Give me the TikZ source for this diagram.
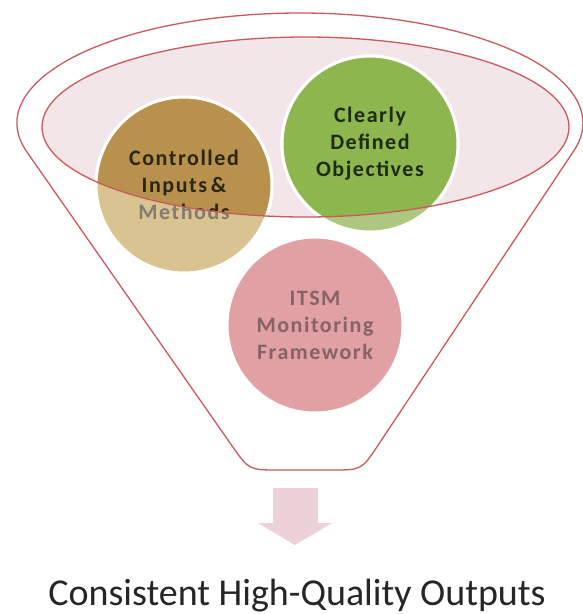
\documentclass[tikz,border=0pt]{standalone}
\usepackage{fontspec}
\setmainfont{Carlito}
\newfontfamily\circfont[LetterSpace=7]{Carlito}
\definecolor{funnelred}{HTML}{C85A5E}
\definecolor{mouthpink}{HTML}{F3E6E8}
\definecolor{brownD}{HTML}{B8914C}
\definecolor{brownL}{HTML}{D9C390}
\definecolor{greenD}{HTML}{8DB64E}
\definecolor{greenL}{HTML}{ABC87E}
\definecolor{pinkC}{HTML}{E1A0A3}
\definecolor{txtD}{HTML}{2A2612}
\definecolor{txtG}{HTML}{1F2A10}
\definecolor{txtL}{HTML}{857A6E}
\definecolor{txtP}{HTML}{846466}
\definecolor{arrowpink}{HTML}{ECD2D6}
\definecolor{titlegray}{HTML}{262626}
\begin{document}
\begin{tikzpicture}[x=1pt,y=1pt,yscale=-1,
  bubble/.style={circle, draw=white, line width=3pt, minimum size=176pt, inner sep=0pt,
    align=center, font=\circfont\bfseries\fontsize{22}{27}\selectfont},
  funnelline/.style={draw=funnelred, line width=1.3pt}]
\useasboundingbox (0,0) rectangle (582,614);
% funnel outline
\draw[funnelline, fill=white] (26.6,151.5) arc[start angle=165, end angle=375, x radius=283, y radius=110]
  -- (378.2,445) .. controls (361.6,470) .. (331.6,470) -- (278.9,470)
  .. controls (248.9,470) .. (231.7,445.4) -- cycle;
% mouth of funnel
\fill[mouthpink] (305.5,127) ellipse [x radius=263.5, y radius=90];
% circles, light (outside mouth)
\node[bubble, fill=brownL, text=txtL] (inputs) at (184,185) {Controlled\\Inputs\,\&\\Methods};
\node[bubble, fill=greenL, text=txtG] (objectives) at (370,144) {Clearly\\Defined\\Objectives};
\node[bubble, fill=pinkC, text=txtP] (itsm) at (315,325) {ITSM\\Monitoring\\Framework};
% circles, dark (inside mouth)
\begin{scope}
  \clip (305.5,127) ellipse [x radius=263.5, y radius=90];
  \node[bubble, fill=brownD, text=txtD] (inputsD) at (184,185) {Controlled\\Inputs\,\&\\Methods};
  \node[bubble, fill=greenD, text=txtG] (objectivesD) at (370,144) {Clearly\\Defined\\Objectives};
\end{scope}
% rim of mouth
\draw[funnelline] (305.5,127) ellipse [x radius=263.5, y radius=90];
% down arrow
\fill[arrowpink] (273,488) -- (318,488) -- (318,523) -- (332,523) -- (295,545) -- (258,523) -- (273,523) -- cycle;
% output text
\node[anchor=base, inner sep=0pt, text=titlegray, font=\fontsize{38}{45}\selectfont] (outputs) at (297,605) {Consistent High-Quality Outputs};
\end{tikzpicture}
\end{document}
